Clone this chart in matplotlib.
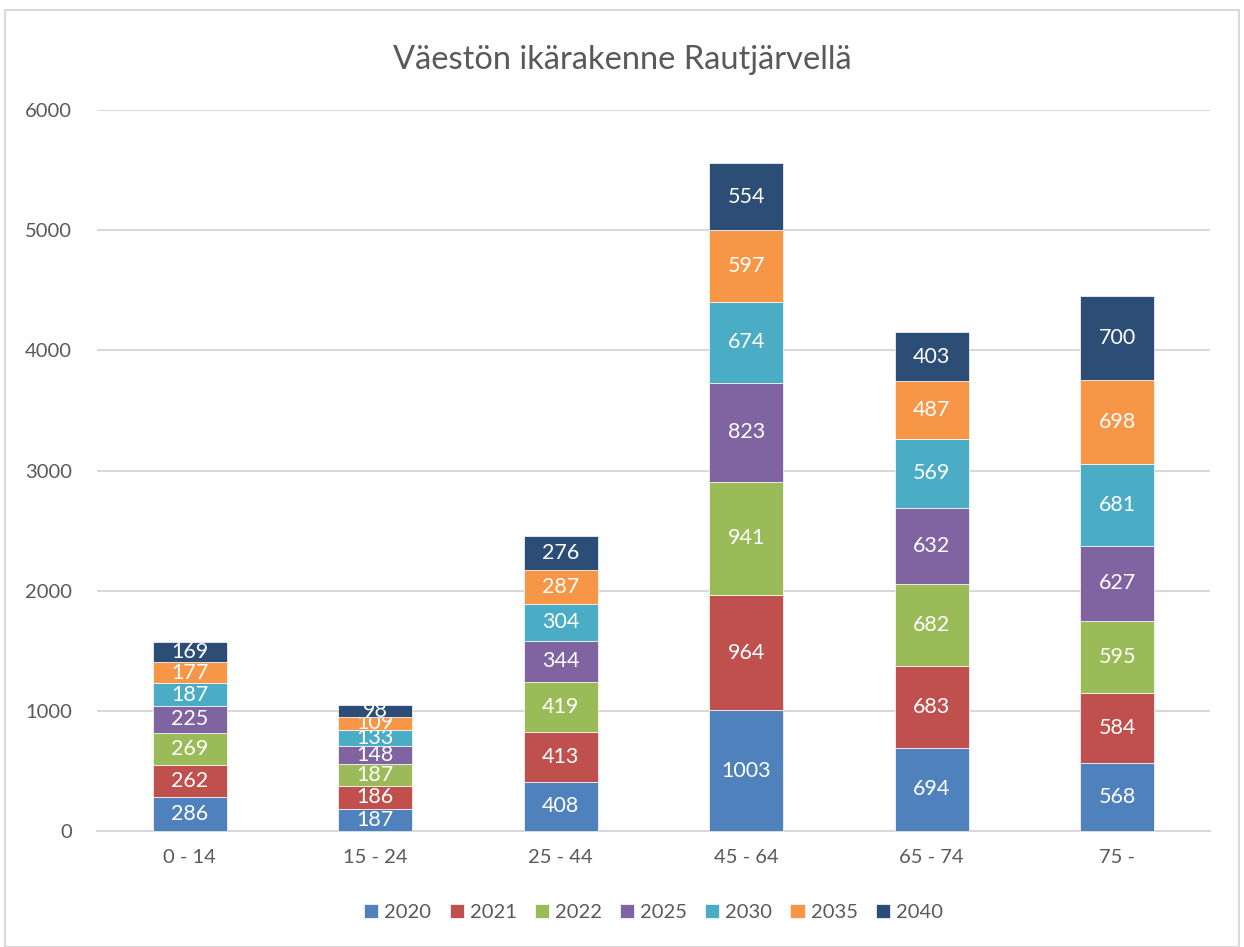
import matplotlib.pyplot as plt
from matplotlib.patches import Rectangle
import numpy as np

plt.rcParams['font.family'] = ['Lato', 'DejaVu Sans']

age_groups = ['0 - 14', '15 - 24', '25 - 44', '45 - 64', '65 - 74', '75 -']
years = ['2020', '2021', '2022', '2025', '2030', '2035', '2040']
v2020 = [286, 187, 408, 1003, 694, 568]
v2021 = [262, 186, 413, 964, 683, 584]
v2022 = [269, 187, 419, 941, 682, 595]
v2025 = [225, 148, 344, 823, 632, 627]
v2030 = [187, 133, 304, 674, 569, 681]
v2035 = [177, 109, 287, 597, 487, 698]
v2040 = [169, 98, 276, 554, 403, 700]
series = [v2020, v2021, v2022, v2025, v2030, v2035, v2040]
colors = ['#4F81BD', '#C0504D', '#9BBB59', '#8064A2', '#4BACC6', '#F79646', '#2C4D75']

fig = plt.figure(figsize=(12.44, 9.47), dpi=100)
ax = fig.add_axes([0.078, 0.1225, 0.8947, 0.7613])

# chart border
fig.patches.append(Rectangle((0.004, 0.0), 0.992, 0.989, transform=fig.transFigure,
                             fill=False, edgecolor='#D9D9D9', linewidth=1.5))

x = np.arange(len(age_groups))
bottom = np.zeros(len(age_groups))
for vals, yr, col in zip(series, years, colors):
    bars = ax.bar(x, vals, 0.4, bottom=bottom, color=col, label=yr,
                  edgecolor='white', linewidth=0.5, zorder=3)
    ax.bar_label(bars, labels=[str(v) for v in vals], label_type='center',
                 color='white', fontsize=15.5)
    bottom += np.array(vals)

ax.set_xlim(-0.5, 5.5)
ax.set_ylim(0, 6000)
ax.set_yticks(range(0, 6001, 1000))
ax.set_xticks(x)
ax.set_xticklabels(age_groups)
ax.grid(axis='y', color='#D9D9D9', linewidth=1.5, zorder=0)
for s in ax.spines.values():
    s.set_visible(False)
ax.spines['bottom'].set_visible(True)
ax.spines['bottom'].set_color('#D9D9D9')
ax.spines['bottom'].set_linewidth(1.5)
ax.tick_params(axis='both', length=0, labelsize=14.5, colors='#595959')
ax.tick_params(axis='x', pad=13)
ax.tick_params(axis='y', pad=18)

fig.suptitle('Väestön ikärakenne Rautjärvellä', y=0.952, fontsize=23.5, color='#595959')

ax.legend(loc='lower center', bbox_to_anchor=(0.5, -0.15), ncol=7, frameon=False,
          fontsize=14.5, labelcolor='#595959', handlelength=0.7, handleheight=0.7,
          handletextpad=0.3, columnspacing=0.9)

fig.savefig('out.png', dpi=100)
